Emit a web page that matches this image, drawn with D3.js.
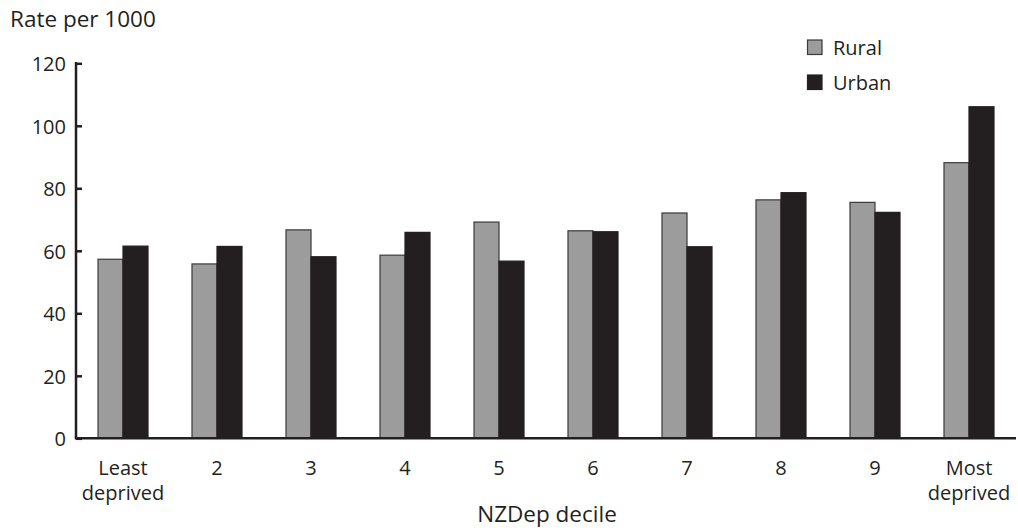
<!DOCTYPE html>
<html><head><meta charset="utf-8">
<script src="https://cdn.jsdelivr.net/npm/d3@7"></script>
<style>
body{margin:0;background:#fff;}
text{font-family:"Open Sans",sans-serif;fill:#231f20;}
</style></head>
<body><svg id="c" width="1018" height="531"></svg>
<script>
const categories = [["Least","deprived"],["2"],["3"],["4"],["5"],["6"],["7"],["8"],["9"],["Most","deprived"]];
const seriesNames = ["Rural","Urban"];
const rural = [57.3, 55.8, 66.7, 58.6, 69.2, 66.4, 72.1, 76.3, 75.5, 88.2];
const urban = [61.5, 61.4, 58.1, 65.9, 56.7, 66.1, 61.3, 78.6, 72.3, 106.1];
const yTicks = [0,20,40,60,80,100,120];
const yTitle = "Rate per 1000";
const xTitle = "NZDep decile";
const colors = ["#9c9c9c","#231f20"];

(function(){
const svg = d3.select("#c");
const mLeft = 76, mRight = 1016, mTop = 63.3, mBottom = 438.3;
const idx = d3.range(categories.length);
const x0 = d3.scaleBand().domain(idx).range([mLeft, mRight]).paddingInner(0.468).paddingOuter(0.234);
const x1 = d3.scaleBand().domain([0,1]).range([0, x0.bandwidth()]);
const y = d3.scaleLinear().domain([0,120]).range([mBottom, mTop]);

const series = [rural, urban];
series.forEach((vals, s) => {
  svg.append("g").selectAll("rect").data(vals).join("rect")
    .attr("x", (d,i) => x0(i) + x1(s))
    .attr("y", d => y(d))
    .attr("width", x1.bandwidth())
    .attr("height", d => y(0) - y(d))
    .attr("fill", colors[s])
    .attr("stroke", s === 0 ? "#3a3a3a" : "#231f20")
    .attr("stroke-width", 1.2);
});

const yAxis = d3.axisRight(y).tickValues(yTicks).tickSize(6).tickFormat(d3.format("d"));
const gy = svg.append("g").attr("transform", `translate(${mLeft},0)`).call(yAxis);
gy.select(".domain").remove();
gy.selectAll(".tick line").attr("stroke", "#231f20").attr("stroke-width", 2.5);
gy.selectAll(".tick text").attr("x", -10).attr("text-anchor", "end").attr("dy", "0.36em")
  .style("font-size", "20px").attr("fill", "#231f20");
svg.append("line").attr("x1", mLeft).attr("x2", mLeft).attr("y1", mTop - 1.2).attr("y2", mBottom)
  .attr("stroke", "#231f20").attr("stroke-width", 2.5);
svg.append("line").attr("x1", mLeft - 1.2).attr("x2", mRight).attr("y1", mBottom).attr("y2", mBottom)
  .attr("stroke", "#231f20").attr("stroke-width", 2.5);

// x labels: one text element per line
const xg = svg.append("g");
categories.forEach((lines, i) => {
  lines.forEach((ln, j) => {
    xg.append("text")
      .attr("x", x0(i) + x0.bandwidth()/2)
      .attr("y", 474.5 + j*25)
      .attr("text-anchor", "middle")
      .style("font-size", "20px")
      .text(ln);
  });
});

svg.append("text").attr("x", (mLeft+mRight)/2 + 1).attr("y", 522).attr("text-anchor", "middle")
  .style("font-size", "22.5px").text(xTitle);
svg.append("text").attr("x", 10).attr("y", 27).style("font-size", "22.5px").text(yTitle);

const lg = svg.append("g");
seriesNames.forEach((n, i) => {
  lg.append("rect").attr("x", 807.5).attr("y", 40 + i*35).attr("width", 14.5).attr("height", 14.5)
    .attr("fill", colors[i]).attr("stroke", i === 0 ? "#3a3a3a" : "#231f20").attr("stroke-width", 1.2);
  lg.append("text").attr("x", 833).attr("y", 55 + i*35).style("font-size", "20px").text(n);
});
})();
</script></body></html>
